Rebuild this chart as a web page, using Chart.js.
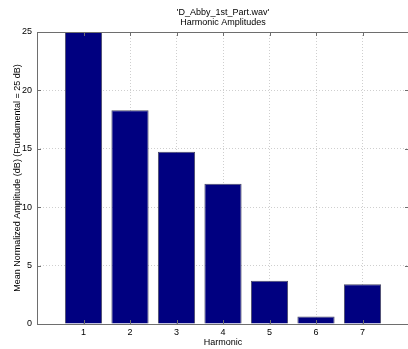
<!DOCTYPE html>
<html>
<head>
<meta charset="utf-8">
<script src="https://cdn.jsdelivr.net/npm/chart.js@4/dist/chart.umd.min.js"></script>
<style>
  html, body { margin: 0; padding: 0; background: #fff; overflow: hidden; }
  #wrap { width: 408px; height: 349px; overflow: hidden; }
</style>
</head>
<body>
<div id="wrap"><canvas id="chart" width="412" height="349"></canvas></div>
<script>
// ── Datos ─────────────────────────────────────────────
const harmonics  = [1, 2, 3, 4, 5, 6, 7];
const amplitudes = [25, 18.3, 14.75, 12.0, 3.7, 0.65, 3.4];
const yTicks     = [0, 5, 10, 15, 20, 25];
const titleLines = ["'D_Abby_1st_Part.wav'", 'Harmonic Amplitudes'];

const FONT = 'Liberation Sans, Arial, Helvetica, sans-serif';

// ── Título centrado sobre el área del gráfico ─────────
const titlePlugin = {
    id: 'plotTitle',
    afterDraw(chart) {
        const { ctx, chartArea: a } = chart;
        const cx = (a.left + a.right) / 2;
        ctx.save();
        ctx.fillStyle = '#000';
        ctx.font = `9px ${FONT}`;
        ctx.textAlign = 'center';
        ctx.textBaseline = 'middle';
        titleLines.forEach((t, i) => ctx.fillText(t, cx, 12.5 + i * 10));
        ctx.restore();
    }
};

// ── Caja completa + marcas hacia dentro (estilo MATLAB) ──
const boxPlugin = {
    id: 'box',
    afterDatasetsDraw(chart) {
        const { ctx, chartArea: a, scales: { x, y } } = chart;
        ctx.save();
        ctx.strokeStyle = '#6e6e6e';
        ctx.lineWidth = 1;
        ctx.strokeRect(a.left + 0.5, a.top + 0.5, a.right - a.left, a.bottom - a.top);
        ctx.beginPath();
        harmonics.forEach(h => {
            const px = Math.round(x.getPixelForValue(h)) + 0.5;
            ctx.moveTo(px, a.bottom); ctx.lineTo(px, a.bottom - 4);
            ctx.moveTo(px, a.top);    ctx.lineTo(px, a.top + 4);
        });
        yTicks.forEach(v => {
            const py = Math.round(y.getPixelForValue(v)) + 0.5;
            ctx.moveTo(a.left, py);  ctx.lineTo(a.left + 4, py);
            ctx.moveTo(a.right, py); ctx.lineTo(a.right - 4, py);
        });
        ctx.stroke();
        ctx.restore();
    }
};

new Chart(document.getElementById('chart'), {
    type: 'bar',
    data: {
        datasets: [{
            data: harmonics.map((h, i) => ({ x: h, y: amplitudes[i] })),
            backgroundColor: '#000080',
            borderColor: '#4a4a66',
            borderWidth: 1,
            barPercentage: 0.8,
            categoryPercentage: 1,
        }],
    },
    options: {
        responsive: false,
        animation: false,
        layout: { padding: { left: 0, top: 32, bottom: 0, right: 0 } },
        plugins: {
            legend: { display: false },
            tooltip: { enabled: false },
            title: { display: false },
        },
        scales: {
            x: {
                type: 'linear',
                min: 0, max: 8,
                offset: false,
                afterFit: s => { s.height = 25; },
                afterBuildTicks: s => { s.ticks = [0, ...harmonics, 8].map(v => ({ value: v })); },
                ticks: {
                    color: '#000',
                    font: { family: FONT, size: 9 },
                    padding: 3,
                    maxRotation: 0,
                    callback: v => (v >= 1 && v <= 7 ? String(v) : ''),
                },
                grid: { color: '#cfcfcf', drawTicks: false, lineWidth: 1, offset: false },
                border: { display: false, dash: [1, 2] },
                title: {
                    display: true, text: 'Harmonic', color: '#000',
                    font: { family: FONT, size: 9 }, padding: { top: 0, bottom: 1 },
                },
            },
            y: {
                min: 0, max: 25,
                afterFit: s => { s.width = 37; },
                afterBuildTicks: s => { s.ticks = yTicks.map(v => ({ value: v })); },
                ticks: {
                    color: '#000',
                    font: { family: FONT, size: 9 },
                    padding: 5,
                },
                grid: { color: '#cfcfcf', drawTicks: false, lineWidth: 1 },
                border: { display: false, dash: [1, 2] },
                title: {
                    display: true, text: 'Mean Normalized Amplitude (dB) (Fundamental = 25 dB)', color: '#000',
                    font: { family: FONT, size: 9 }, padding: { top: 12, bottom: 0 },
                },
            },
        },
    },
    plugins: [boxPlugin, titlePlugin],
});
</script>
</body>
</html>
